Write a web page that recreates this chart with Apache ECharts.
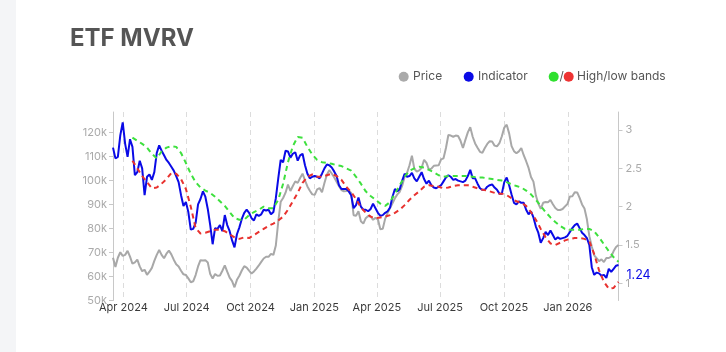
<!DOCTYPE html>
<html>
<head>
<meta charset="utf-8">
<title>ETF MVRV</title>
<script src="https://cdn.jsdelivr.net/npm/echarts@6/dist/echarts.min.js"></script>
<style>
  html, body { margin: 0; padding: 0; background: #fff; }
  #chart { width: 726px; height: 352px; }
</style>
</head>
<body>
<div id="chart"></div>
<script>
// samples every 3.5 days from 17 Mar 2024; bands are weekly (every 2nd sample)
var startDay = [2024, 2, 17]
var stepHours = 84

// BTC price, thousands of USD (left axis)
var priceK = [
  67.8, 64.0, 67.8, 70.1, 68.6, 69.0, 70.7, 68.3, 65.3, 65.9,
  67.0, 64.2, 62.2, 62.8, 60.7, 62.0, 63.6, 66.5, 69.0, 71.0,
  69.0, 67.6, 69.5, 70.8, 69.2, 67.0, 65.1, 64.2, 62.4, 60.9,
  60.6, 59.2, 57.6, 58.0, 60.6, 64.2, 66.8, 66.7, 66.8, 65.8,
  61.0, 59.2, 61.0, 60.3, 60.4, 62.4, 64.6, 62.0, 59.5, 58.1,
  55.5, 58.6, 60.3, 62.5, 64.3, 63.7, 62.4, 61.2, 62.1, 63.3,
  64.6, 66.1, 67.5, 68.2, 68.2, 69.4, 69.0, 72.9, 82.8, 91.1,
  92.7, 94.9, 98.3, 95.6, 97.7, 99.6, 99.0, 101.0, 102.8, 100.0,
  97.5, 95.7, 94.2, 94.0, 96.3, 96.8, 95.1, 98.9, 102.4, 104.3,
  102.9, 101.3, 99.4, 97.6, 96.0, 95.5, 95.6, 95.8, 94.8, 85.5,
  85.3, 87.2, 83.0, 82.0, 84.3, 85.2, 85.1, 83.6, 84.4, 83.8,
  79.7, 79.9, 84.1, 86.5, 88.5, 90.5, 92.6, 94.2, 95.3, 97.8,
  101.5, 103.2, 106.3, 110.3, 104.8, 103.7, 104.2, 105.3, 108.6, 107.3,
  104.5, 104.9, 106.1, 106.2, 106.3, 108.8, 109.2, 113.5, 118.9, 118.7,
  118.2, 118.7, 118.5, 116.5, 113.5, 116.9, 120.0, 122.2, 118.2, 115.4,
  113.6, 111.9, 111.5, 113.5, 115.2, 116.3, 116.2, 114.5, 114.2, 115.5,
  118.4, 122.0, 123.2, 119.6, 114.3, 112.2, 111.3, 112.1, 113.5, 110.5,
  108.0, 105.2, 101.4, 99.5, 93.7, 90.4, 88.2, 90.7, 91.0, 90.9,
  91.9, 90.1, 88.5, 87.7, 87.7, 88.1, 89.2, 90.2, 93.3, 93.4,
  95.1, 95.0, 92.7, 90.0, 88.3, 83.8, 76.8, 72.5, 68.8, 67.6,
  66.4, 67.1, 66.0, 67.7, 67.7, 68.3, 70.6, 72.3, 73.1
]

// MVRV indicator (right axis)
var indicator = [
  2.77, 2.63, 2.65, 2.93, 3.10, 2.82, 2.65, 2.88, 2.78, 2.41,
  2.45, 2.60, 2.50, 2.15, 2.39, 2.42, 2.35, 2.45, 2.70, 2.80,
  2.73, 2.67, 2.61, 2.57, 2.52, 2.47, 2.40, 2.32, 2.15, 2.01,
  2.06, 1.93, 1.70, 1.71, 1.79, 2.03, 2.10, 2.20, 2.13, 1.97,
  1.76, 1.51, 1.72, 1.71, 1.76, 1.68, 1.89, 1.76, 1.68, 1.56,
  1.47, 1.64, 1.73, 1.84, 1.92, 1.96, 1.92, 1.85, 1.82, 1.90,
  1.88, 1.90, 1.96, 1.95, 1.96, 1.90, 1.93, 2.11, 2.37, 2.61,
  2.58, 2.73, 2.72, 2.64, 2.69, 2.71, 2.60, 2.67, 2.69, 2.54,
  2.43, 2.37, 2.39, 2.40, 2.39, 2.37, 2.43, 2.50, 2.55, 2.54,
  2.51, 2.46, 2.40, 2.28, 2.23, 2.23, 2.23, 2.20, 2.15, 1.98,
  2.02, 2.12, 2.00, 1.96, 1.96, 1.94, 1.97, 2.04, 1.98, 1.92,
  1.88, 1.89, 1.92, 1.94, 1.99, 2.13, 2.23, 2.20, 2.23, 2.34,
  2.43, 2.39, 2.40, 2.44, 2.37, 2.33, 2.39, 2.45, 2.36, 2.30,
  2.34, 2.28, 2.25, 2.24, 2.26, 2.28, 2.33, 2.38, 2.41, 2.39,
  2.35, 2.36, 2.34, 2.33, 2.32, 2.34, 2.40, 2.48, 2.37, 2.37,
  2.30, 2.24, 2.22, 2.22, 2.26, 2.28, 2.29, 2.25, 2.22, 2.17,
  2.17, 2.32, 2.38, 2.28, 2.16, 2.05, 2.03, 2.07, 2.05, 2.05,
  1.96, 1.90, 1.94, 1.86, 1.74, 1.66, 1.53, 1.59, 1.67, 1.63,
  1.69, 1.63, 1.57, 1.60, 1.58, 1.59, 1.60, 1.62, 1.67, 1.72,
  1.76, 1.78, 1.72, 1.66, 1.63, 1.59, 1.50, 1.21, 1.11, 1.14,
  1.13, 1.10, 1.11, 1.07, 1.19, 1.15, 1.19, 1.23, 1.24
]

// weekly high / low bands (right axis)
var highBand = [
  null, null, null, null,
  2.90, 2.86, 2.82, 2.77, 2.69, 2.63, 2.72, 2.77, 2.79, 2.78,
  2.70, 2.57, 2.43, 2.32, 2.25, 2.21, 2.18, 2.13, 2.07, 2.01,
  1.93, 1.85, 1.83, 1.83, 1.89, 1.93, 1.96, 2.00, 1.98, 1.98,
  2.09, 2.30, 2.58, 2.79, 2.91, 2.90, 2.78, 2.68, 2.61, 2.58,
  2.57, 2.56, 2.54, 2.53, 2.50, 2.47, 2.39, 2.30, 2.20, 2.14,
  2.09, 2.04, 2.01, 2.06, 2.17, 2.28, 2.39, 2.47, 2.50, 2.52,
  2.51, 2.48, 2.45, 2.41, 2.39, 2.40, 2.40, 2.40, 2.40, 2.40,
  2.39, 2.38, 2.38, 2.37, 2.36, 2.35, 2.34, 2.32, 2.29, 2.27,
  2.25, 2.21, 2.16, 2.09, 2.01, 1.93, 1.86, 1.80, 1.75, 1.71,
  1.70, 1.70, 1.70, 1.71, 1.71, 1.68, 1.60, 1.51, 1.42, 1.34,
  1.28
]

var lowBand = [
  null, null, null, null,
  2.60, 2.50, 2.40, 2.32, 2.24, 2.25, 2.30, 2.36, 2.44, 2.43,
  2.36, 2.23, 2.00, 1.72, 1.65, 1.66, 1.68, 1.70, 1.70, 1.68,
  1.64, 1.60, 1.58, 1.60, 1.59, 1.63, 1.67, 1.71, 1.75, 1.78,
  1.82, 1.87, 1.96, 2.07, 2.18, 2.31, 2.39, 2.42, 2.39, 2.39,
  2.41, 2.43, 2.40, 2.35, 2.26, 2.19, 2.10, 1.99, 1.92, 1.87,
  1.85, 1.86, 1.87, 1.89, 1.92, 1.96, 2.02, 2.09, 2.15, 2.20,
  2.26, 2.28, 2.27, 2.26, 2.24, 2.25, 2.27, 2.28, 2.28, 2.28,
  2.26, 2.24, 2.22, 2.21, 2.19, 2.17, 2.17, 2.15, 2.11, 2.07,
  2.05, 2.01, 1.93, 1.83, 1.71, 1.60, 1.52, 1.50, 1.53, 1.56,
  1.58, 1.59, 1.59, 1.58, 1.55, 1.38, 1.17, 1.02, 0.93, 0.94,
  1.02
]

var dateTicks = ['2024-04-01', '2024-07-01', '2024-10-01', '2025-01-01', '2025-04-01', '2025-07-01', '2025-10-01', '2026-01-01']
var priceTicks = [50, 60, 70, 80, 90, 100, 110, 120]
var ratioTicks = [1, 1.5, 2, 2.5, 3]
var monthNames = ['Jan', 'Feb', 'Mar', 'Apr', 'May', 'Jun', 'Jul', 'Aug', 'Sep', 'Oct', 'Nov', 'Dec']

var dates = []
for (var i = 0; i < indicator.length; i++) {
  dates.push(new Date(startDay[0], startDay[1], startDay[2], stepHours * i).getTime())
}
var tickTimes = dateTicks.map(function (d) {
  var p = d.split('-')
  return new Date(+p[0], +p[1] - 1, +p[2]).getTime()
})
function pairs(vals, every) {
  return vals.map(function (v, i) { return [dates[i * every], v] })
}

var chart = echarts.init(document.getElementById('chart'))
chart.setOption({
  backgroundColor: '#fff',
  animation: false,
  textStyle: { fontFamily: 'Inter, "Noto Sans", sans-serif' },
  title: {
    text: 'ETF MVRV',
    left: 65,
    top: 22,
    textStyle: { fontSize: 24, fontWeight: 'bold', color: '#555' }
  },
  graphic: [
    { type: 'rect', shape: { x: 0, y: 0, width: 16, height: 352 }, style: { fill: '#f4f5f7' } },
    { type: 'circle', shape: { cx: 403.7, cy: 76.7, r: 5 }, style: { fill: '#aaaaaa' } },
    { type: 'text', x: 413, y: 76.7, style: { text: 'Price', fill: '#555', font: '12px Inter, sans-serif', verticalAlign: 'middle' } },
    { type: 'circle', shape: { cx: 468.7, cy: 76.7, r: 5 }, style: { fill: '#0a0ae6' } },
    { type: 'text', x: 478, y: 76.7, style: { text: 'Indicator', fill: '#555', font: '12px Inter, sans-serif', verticalAlign: 'middle' } },
    { type: 'circle', shape: { cx: 553.7, cy: 76.7, r: 5 }, style: { fill: '#2fe02f' } },
    { type: 'text', x: 559.5, y: 76.7, style: { text: '/', fill: '#555', font: '12px Inter, sans-serif', verticalAlign: 'middle' } },
    { type: 'circle', shape: { cx: 568.7, cy: 76.7, r: 5 }, style: { fill: '#ee3333' } },
    { type: 'text', x: 577, y: 76.7, style: { text: 'High/low bands', fill: '#555', font: '12px Inter, sans-serif', verticalAlign: 'middle' } }
  ],
  grid: { left: 113, right: 107.5, top: 112, bottom: 51.5 },
  xAxis: {
    type: 'value',
    min: dates[0],
    max: dates[dates.length - 1],
    axisLine: { show: false },
    axisTick: { show: false, customValues: tickTimes },
    splitLine: { show: true, lineStyle: { color: '#dcdcdc', type: [5, 4], width: 1 } },
    axisLabel: {
      customValues: tickTimes,
      color: '#3a3a3a',
      fontSize: 11,
      margin: 2,
      formatter: function (v) {
        var d = new Date(v)
        return monthNames[d.getMonth()] + ' ' + d.getFullYear()
      }
    }
  },
  yAxis: [
    {
      type: 'value',
      position: 'left',
      min: 50,
      max: 128.5,
      splitLine: { show: false },
      axisLine: { show: true, lineStyle: { color: '#c8c8c8' } },
      axisTick: { show: true, length: 4, customValues: priceTicks, lineStyle: { color: '#c8c8c8' } },
      axisLabel: { customValues: priceTicks, color: '#aaa', fontSize: 11, margin: 6, formatter: function (v) { return v + 'k' } }
    },
    {
      type: 'value',
      position: 'right',
      min: 0.776,
      max: 3.235,
      splitLine: { show: false },
      axisLine: { show: true, lineStyle: { color: '#c8c8c8' } },
      axisTick: { show: true, length: 4, customValues: ratioTicks, lineStyle: { color: '#c8c8c8' } },
      axisLabel: { customValues: ratioTicks, color: '#aaa', fontSize: 11, margin: 7 }
    }
  ],
  series: [
    {
      name: 'Price',
      type: 'line',
      yAxisIndex: 0,
      data: pairs(priceK, 1),
      showSymbol: false,
      lineStyle: { color: '#a8a8a8', width: 2 }
    },
    {
      name: 'Indicator',
      type: 'line',
      yAxisIndex: 1,
      data: pairs(indicator, 1),
      showSymbol: false,
      lineStyle: { color: '#0a0ae6', width: 2 },
      endLabel: {
        show: true,
        color: '#0a0ae6',
        fontSize: 12.5,
        offset: [0, 10],
        formatter: function (p) { return p.value[1].toFixed(2) }
      }
    },
    {
      name: 'High band',
      type: 'line',
      yAxisIndex: 1,
      data: pairs(highBand, 2),
      showSymbol: false,
      lineStyle: { color: '#3ee03e', width: 2, type: [5, 4] }
    },
    {
      name: 'Low band',
      type: 'line',
      yAxisIndex: 1,
      data: pairs(lowBand, 2),
      showSymbol: false,
      lineStyle: { color: '#e8322f', width: 2, type: [5, 4] }
    }
  ]
})
</script>
</body>
</html>
